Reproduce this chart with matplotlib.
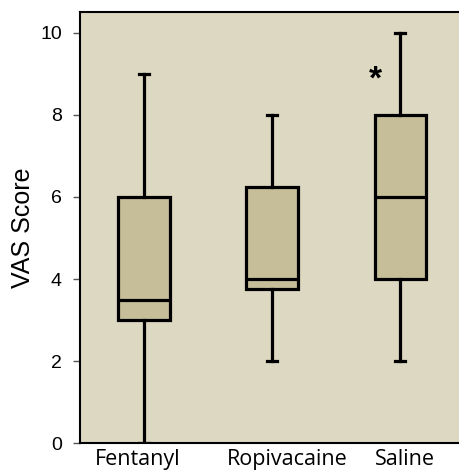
import matplotlib
matplotlib.use("Agg")
import matplotlib.pyplot as plt
import matplotlib.transforms as mtrans

# Box plot summary values
groups = ["Fentanyl", "Ropivacaine", "Saline"]
whislo = [0, 2, 2]
q1 = [3, 3.75, 4]
med = [3.5, 4, 6]
q3 = [6, 6.25, 8]
whishi = [9, 8, 10]
yticks = [0, 2, 4, 6, 8, 10]

stats = []
for i in range(len(groups)):
    stats.append({"label": groups[i], "whislo": whislo[i], "q1": q1[i],
                  "med": med[i], "q3": q3[i], "whishi": whishi[i], "fliers": []})

fig = plt.figure(figsize=(4.59, 4.73), dpi=100)
ax = fig.add_axes([0.1743, 0.063, 0.837, 0.912])
ax.set_facecolor("#DDD8C2")

lw = 2.3
ax.bxp(stats, positions=[1, 2, 3], widths=0.4, capwidths=0.08, patch_artist=True,
       boxprops=dict(facecolor="#C6BE98", edgecolor="black", linewidth=lw),
       medianprops=dict(color="black", linewidth=lw),
       whiskerprops=dict(color="black", linewidth=lw),
       capprops=dict(color="black", linewidth=lw))

# significance marker
ax.text(2.81, 8.85, "*", fontsize=24, fontweight="bold", ha="center", va="center",
        family="Liberation Sans")

ax.set_xlim(0.5, 3.5)
ax.set_ylim(0, 10.51)
ax.set_yticks(yticks)
ax.set_yticklabels([str(t) for t in yticks], fontsize=14, family="Liberation Sans")
ax.set_xticks([1, 2, 3])
ax.set_xticklabels(groups, fontsize=15.5, family="Open Sans")
ax.tick_params(axis="x", length=0, pad=4)
ax.tick_params(axis="y", length=5, width=1, color="#555555", pad=8)
ax.set_ylabel("VAS Score", fontsize=18, family="Liberation Sans", labelpad=4)

# the category labels are not quite centred under the boxes
shifts = [-6, 15, 5]
for lab, dx in zip(ax.get_xticklabels(), shifts):
    lab.set_transform(lab.get_transform() + mtrans.ScaledTranslation(dx / 100, 0, fig.dpi_scale_trans))

for side in ["left", "top", "bottom"]:
    ax.spines[side].set_linewidth(1.5)
ax.spines["right"].set_visible(False)

fig.savefig("out.png", dpi=100)
